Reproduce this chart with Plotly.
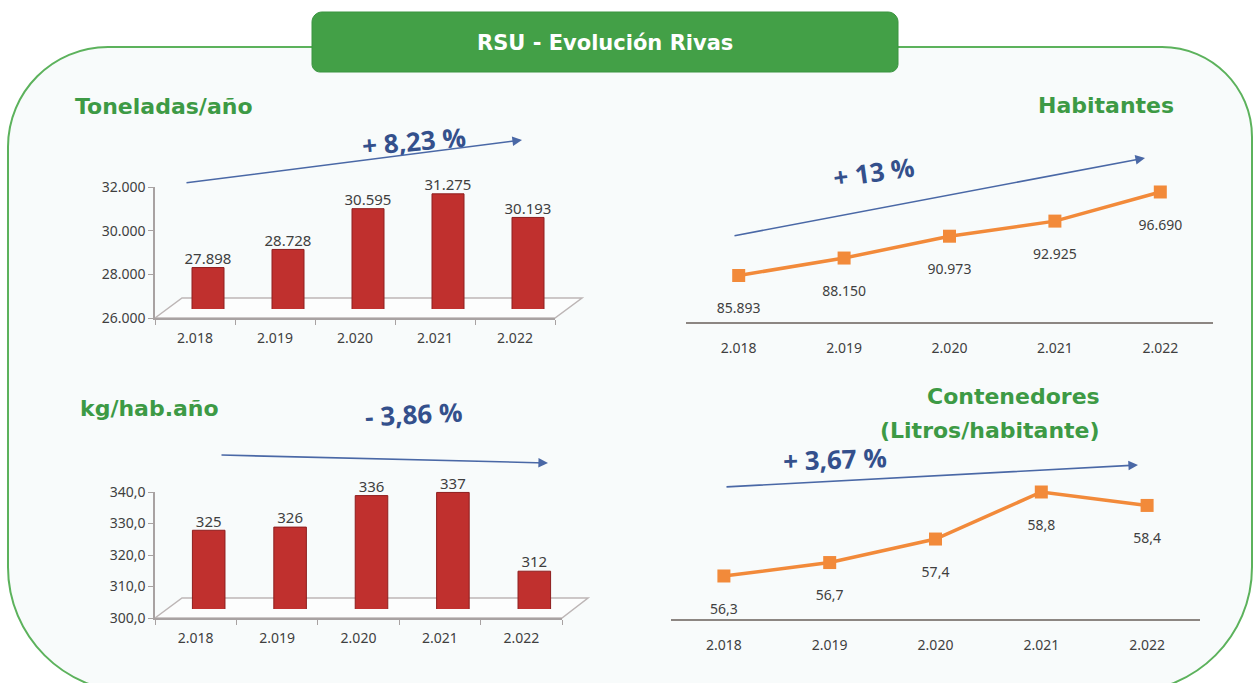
import plotly.graph_objects as go

W, H = 1255, 683

years = ["2.018", "2.019", "2.020", "2.021", "2.022"]
toneladas = [27898, 28728, 30595, 31275, 30193]
habitantes = [85893, 88150, 90973, 92925, 96690]
kg_hab = [325, 326, 336, 337, 312]
litros_hab = [56.3, 56.7, 57.4, 58.8, 58.4]

titulo = "RSU - Evolución Rivas"
secciones = ["Toneladas/año", "Habitantes", "kg/hab.año", "Contenedores", "(Litros/habitante)"]
variaciones = ["+ 8,23 %", "+ 13 %", "- 3,86 %", "+ 3,67 %"]

VERDE = "#43a047"
ROJO = "#c0302e"
NARANJA = "#f28a3a"
AZUL = "#34508c"
GRIS = "#3f3f3f"
FONT = "Noto Sans"
FONT_TIT = "DejaVu Sans"


# pixel helpers (margins are zero, so paper == page)
def fx(x):
    return x / W


def fy(y):
    return 1 - y / H


def dom_x(a, b):
    return [a / W, b / W]


def dom_y(top, bottom):
    return [1 - bottom / H, 1 - top / H]


def rounded_path(x0, y0, x1, y1, tl, tr, br, bl):
    k = 0.5523

    def P(x, y):
        return f"{fx(x):.5f},{fy(y):.5f}"

    d = f"M {P(x0 + tl, y0)} L {P(x1 - tr, y0)} "
    d += f"C {P(x1 - tr + k * tr, y0)} {P(x1, y0 + tr - k * tr)} {P(x1, y0 + tr)} "
    d += f"L {P(x1, y1 - br)} "
    d += f"C {P(x1, y1 - br + k * br)} {P(x1 - br + k * br, y1)} {P(x1 - br, y1)} "
    d += f"L {P(x0 + bl, y1)} "
    d += f"C {P(x0 + bl - k * bl, y1)} {P(x0, y1 - bl + k * bl)} {P(x0, y1 - bl)} "
    d += f"L {P(x0, y0 + tl)} "
    d += f"C {P(x0, y0 + tl - k * tl)} {P(x0 + tl - k * tl, y0)} {P(x0 + tl, y0)} Z"
    return d


def poly_path(pts):
    return "M " + " L ".join(f"{fx(x):.5f},{fy(y):.5f}" for x, y in pts) + " Z"


fig = go.Figure()

# --- Toneladas/año (bars on a shifted axis to fake the 3D depth) ---
fig.add_trace(go.Scatter(x=years, y=toneladas, mode="markers", marker=dict(opacity=0),
                         hoverinfo="skip", showlegend=False, xaxis="x", yaxis="y"))
fig.add_trace(go.Bar(x=years, y=toneladas, width=0.4, showlegend=False,
                     marker=dict(color=ROJO, line=dict(color="#8e1e1e", width=1)),
                     xaxis="x5", yaxis="y5"))
fig.add_trace(go.Scatter(x=years, y=toneladas, mode="text", texttemplate="%{y:,.0f}",
                         textposition="top center", cliponaxis=False, showlegend=False,
                         textfont=dict(family=FONT, size=15, color=GRIS),
                         xaxis="x5", yaxis="y5"))

# --- Habitantes ---
fig.add_trace(go.Scatter(x=years, y=habitantes, mode="lines+markers+text",
                         texttemplate="<br>%{y:,.0f}", textposition="bottom center",
                         cliponaxis=False, showlegend=False,
                         line=dict(color=NARANJA, width=3.5),
                         marker=dict(symbol="square", size=13, color=NARANJA),
                         textfont=dict(family=FONT, size=14, color=GRIS),
                         xaxis="x2", yaxis="y2"))

# --- kg/hab.año ---
fig.add_trace(go.Scatter(x=years, y=kg_hab, mode="markers", marker=dict(opacity=0),
                         hoverinfo="skip", showlegend=False, xaxis="x3", yaxis="y3"))
fig.add_trace(go.Bar(x=years, y=kg_hab, width=0.4, showlegend=False,
                     marker=dict(color=ROJO, line=dict(color="#8e1e1e", width=1)),
                     xaxis="x6", yaxis="y6"))
fig.add_trace(go.Scatter(x=years, y=kg_hab, mode="text", texttemplate="%{y:.0f}",
                         textposition="top center", cliponaxis=False, showlegend=False,
                         textfont=dict(family=FONT, size=15, color=GRIS),
                         xaxis="x6", yaxis="y6"))

# --- Contenedores ---
fig.add_trace(go.Scatter(x=years, y=litros_hab, mode="lines+markers+text",
                         texttemplate="<br>%{y:.1f}", textposition="bottom center",
                         cliponaxis=False, showlegend=False,
                         line=dict(color=NARANJA, width=3.5),
                         marker=dict(symbol="square", size=13, color=NARANJA),
                         textfont=dict(family=FONT, size=14, color=GRIS),
                         xaxis="x4", yaxis="y4"))

tick_font = dict(family=FONT, size=14, color=GRIS)
bar_x = dict(type="category", range=[-0.5, 4.5], showline=True, linecolor="#a8a2a2",
             linewidth=1.5, ticks="outside", tickson="boundaries", ticklen=5,
             tickcolor="#a8a2a2", showgrid=False, zeroline=False, tickfont=tick_font,
             ticklabelstandoff=6, automargin=False)
bar_y = dict(showline=True, linecolor="#a8a2a2", linewidth=1.5, ticks="outside",
             ticklen=5, tickcolor="#a8a2a2", showgrid=False, zeroline=False,
             tickfont=tick_font, automargin=False)
hidden = dict(visible=False, showgrid=False, zeroline=False, automargin=False)
line_x = dict(type="category", range=[-0.5, 4.5], showline=True, linecolor="#8c8682",
              linewidth=2, ticks="", showgrid=False, zeroline=False, tickfont=tick_font,
              ticklabelstandoff=12, automargin=False)

fig.update_layout(
    xaxis=dict(bar_x, domain=dom_x(155, 555), anchor="y"),
    yaxis=dict(bar_y, domain=dom_y(187, 318), anchor="x", range=[26000, 32000],
               tickvals=[26000, 28000, 30000, 32000], tickformat=",.0f"),
    xaxis5=dict(hidden, type="category", range=[-0.5, 4.5], domain=dom_x(168, 568), anchor="y5"),
    yaxis5=dict(hidden, domain=dom_y(178, 309), anchor="x5", range=[26000, 32000]),
    xaxis2=dict(line_x, domain=dom_x(686, 1213), anchor="y2"),
    yaxis2=dict(hidden, domain=dom_y(150, 322), anchor="x2", range=[79880, 102120]),
    xaxis3=dict(bar_x, domain=dom_x(155, 562), anchor="y3"),
    yaxis3=dict(bar_y, domain=dom_y(492, 618), anchor="x3", range=[300, 340],
                tickvals=[300, 310, 320, 330, 340], tickformat=".1f"),
    xaxis6=dict(hidden, type="category", range=[-0.5, 4.5], domain=dom_x(168, 575), anchor="y6"),
    yaxis6=dict(hidden, domain=dom_y(483, 609), anchor="x6", range=[300, 340]),
    xaxis4=dict(line_x, domain=dom_x(671, 1200), anchor="y4"),
    yaxis4=dict(hidden, domain=dom_y(450, 619), anchor="x4", range=[55.02, 60.05]),
    separators=",.",
    width=W, height=H, autosize=False,
    margin=dict(l=0, r=0, t=0, b=0, pad=0),
    paper_bgcolor="white", plot_bgcolor="rgba(0,0,0,0)",
    showlegend=False,
    font=dict(family=FONT, color=GRIS),
)

shapes = [
    # big rounded panel
    dict(type="path", path=rounded_path(8, 47, 1252, 692, 100, 90, 125, 125),
         xref="paper", yref="paper", fillcolor="#f8fbfb",
         line=dict(color="#5cb25c", width=2), layer="below"),
    # title box
    dict(type="path", path=rounded_path(312, 12, 898, 72, 10, 10, 8, 8),
         xref="paper", yref="paper", fillcolor=VERDE,
         line=dict(color="#3a9440", width=1), layer="below"),
    # 3D floors of the bar charts
    dict(type="path", path=poly_path([(155, 318), (182, 298), (582, 298), (555, 318)]),
         xref="paper", yref="paper", fillcolor="rgba(255,255,255,0.6)",
         line=dict(color="#bdb6b6", width=1.5), layer="below"),
    dict(type="path", path=poly_path([(155, 618), (182, 598), (588, 598), (562, 618)]),
         xref="paper", yref="paper", fillcolor="rgba(255,255,255,0.6)",
         line=dict(color="#bdb6b6", width=1.5), layer="below"),
]
fig.update_layout(shapes=shapes)

tit_font = dict(family=FONT_TIT, size=22, color="#3d9a45")
pct_font = dict(family="Open Sans", size=26, color=AZUL)
ann = [
    dict(text=f"<b>{titulo}</b>", x=fx(605), y=fy(43),
         font=dict(family=FONT_TIT, size=21, color="white")),
    dict(text=f"<b>{secciones[0]}</b>", x=fx(73), y=fy(107), xanchor="left", font=tit_font),
    dict(text=f"<b>{secciones[1]}</b>", x=fx(1176), y=fy(105), xanchor="right", font=tit_font),
    dict(text=f"<b>{secciones[2]}</b>", x=fx(78), y=fy(408), xanchor="left", font=tit_font),
    dict(text=f"<b>{secciones[3]}</b>", x=fx(1102), y=fy(396), font=tit_font),
    dict(text=f"<b>{secciones[4]}</b>", x=fx(1102), y=fy(430), font=tit_font),
    dict(text=f"<b>{variaciones[0]}</b>", x=fx(358), y=fy(141), textangle=-5, font=pct_font),
    dict(text=f"<b>{variaciones[1]}</b>", x=fx(919), y=fy(172), textangle=-8, font=pct_font),
    dict(text=f"<b>{variaciones[2]}</b>", x=fx(362), y=fy(414), textangle=-3, font=pct_font),
    dict(text=f"<b>{variaciones[3]}</b>", x=fx(890), y=fy(459), textangle=-2, font=pct_font),
]
for a in ann:
    a.update(xref="paper", yref="paper", showarrow=False, yanchor="middle")

# trend arrows: (tail, head) in page pixels
flechas = [((185, 183), (522, 140)), ((733, 236), (1145, 158)),
           ((220, 455), (548, 463)), ((725, 487), (1138, 465))]
for (x0, y0), (x1, y1) in flechas:
    ann.append(dict(text="", x=fx(x1), y=fy(y1), xref="paper", yref="paper",
                    ax=x0 - x1, ay=y0 - y1, axref="pixel", ayref="pixel",
                    showarrow=True, arrowhead=2, arrowsize=1.2, arrowwidth=1.6,
                    arrowcolor="#4a68a6"))
fig.update_layout(annotations=ann)

fig.write_html("out.html", config={"displayModeBar": False},
               post_script="document.body.style.margin='0';document.body.style.overflow='hidden';")
